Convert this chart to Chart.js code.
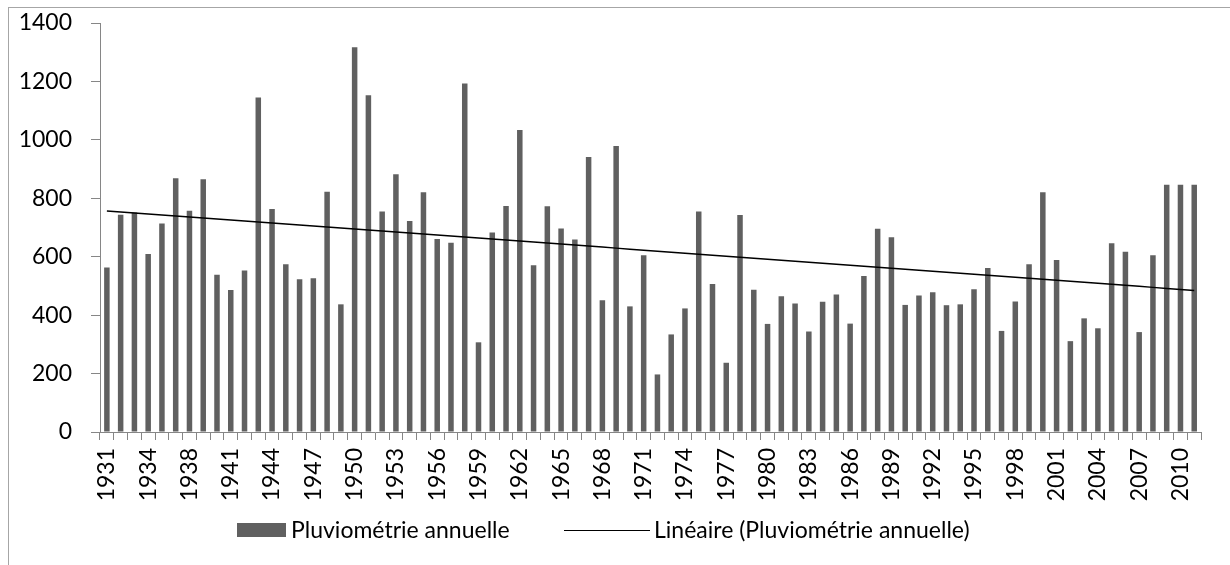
<!DOCTYPE html>
<html>
<head>
<meta charset="utf-8">
<script src="https://cdn.jsdelivr.net/npm/chart.js@4"></script>
<style>
    body { margin: 0; background: #fff; }
    #wrap { position: relative; width: 1230px; height: 565px; overflow: hidden; }
    #frame { position: absolute; left: 8px; top: 7px; width: 1300px; height: 700px;
             border-left: 1px solid #a6a6a6; border-top: 1px solid #a6a6a6; }
    canvas { position: absolute; left: 0; top: 0; }
    .legend { position: absolute; top: 515px; font-family: Lato, sans-serif; font-size: 23px;
              color: #000; line-height: 28px; white-space: nowrap; }
    .swatch-bar { position: absolute; left: 237px; top: 523px; width: 49px; height: 14px; background: #606060; }
    .swatch-line { position: absolute; left: 564px; top: 530px; width: 86px; height: 1px; background: #000; }
</style>
</head>
<body>
<div id="wrap">
    <div id="frame"></div>
    <canvas id="rainChart" width="1230" height="565"></canvas>
    <div class="swatch-bar"></div>
    <div class="legend" style="left:291px">Pluviométrie annuelle</div>
    <div class="swatch-line"></div>
    <div class="legend" style="left:654px">Linéaire (Pluviométrie annuelle)</div>
</div>
<script>
// Years (1937 absent from the series)
const years = [1931, 1932, 1933, 1934, 1935, 1936,
    1938, 1939, 1940, 1941, 1942, 1943, 1944, 1945, 1946, 1947, 1948, 1949,
    1950, 1951, 1952, 1953, 1954, 1955, 1956, 1957, 1958, 1959,
    1960, 1961, 1962, 1963, 1964, 1965, 1966, 1967, 1968, 1969,
    1970, 1971, 1972, 1973, 1974, 1975, 1976, 1977, 1978, 1979,
    1980, 1981, 1982, 1983, 1984, 1985, 1986, 1987, 1988, 1989,
    1990, 1991, 1992, 1993, 1994, 1995, 1996, 1997, 1998, 1999,
    2000, 2001, 2002, 2003, 2004, 2005, 2006, 2007, 2008, 2009,
    2010, 2011];

// Annual rainfall (mm)
const rainfall = [563, 744, 751, 609, 714, 869,
    757, 865, 538, 486, 553, 1145, 763, 574, 523, 526, 822, 437,
    1317, 1153, 755, 882, 722, 821, 661, 648, 1193, 307,
    683, 774, 1034, 571, 773, 697, 659, 941, 451, 979,
    430, 605, 197, 334, 423, 755, 507, 237, 743, 487,
    370, 465, 440, 344, 446, 471, 371, 534, 696, 667,
    435, 467, 478, 434, 437, 489, 561, 346, 447, 574,
    821, 589, 311, 389, 355, 646, 617, 342, 605, 846,
    846, 846];

const yTicks = [0, 200, 400, 600, 800, 1000, 1200, 1400];

// Linear trend (least squares on category index, like the spreadsheet trendline)
function linearTrend(values) {
    const n = values.length;
    let sx = 0, sy = 0, sxy = 0, sxx = 0;
    values.forEach((v, i) => { sx += i; sy += v; sxy += i * v; sxx += i * i; });
    const slope = (n * sxy - sx * sy) / (n * sxx - sx * sx);
    const icept = (sy - slope * sx) / n;
    return values.map((v, i) => icept + slope * i);
}

const axisColor = '#868686';
const fontSpec = { family: 'Lato, sans-serif', size: 23 };

new Chart(document.getElementById('rainChart').getContext('2d'), {
    data: {
        labels: years.map(String),
        datasets: [{
            type: 'line',
            label: 'Linéaire (Pluviométrie annuelle)',
            data: linearTrend(rainfall),
            borderColor: '#000',
            borderWidth: 1.5,
            pointRadius: 0,
            order: 0
        }, {
            type: 'bar',
            label: 'Pluviométrie annuelle',
            data: rainfall,
            backgroundColor: '#606060',
            barPercentage: 0.4,
            categoryPercentage: 1.0,
            order: 1
        }]
    },
    options: {
        responsive: false,
        animation: false,
        layout: { padding: { left: 0, right: 27, top: 23, bottom: 0 } },
        plugins: {
            legend: { display: false },
            tooltip: { enabled: false }
        },
        scales: {
            x: {
                offset: true,
                grid: { offset: true, drawOnChartArea: false, drawTicks: true, tickLength: 8, color: axisColor },
                border: { color: axisColor, width: 1 },
                ticks: {
                    autoSkip: false,
                    minRotation: 90,
                    maxRotation: 90,
                    padding: 8,
                    color: '#000',
                    font: fontSpec,
                    callback: function(value, index) {
                        return index % 3 === 0 ? years[index] : '';
                    }
                },
                afterFit: function(scale) { scale.height = 133; }
            },
            y: {
                min: 0,
                max: 1400,
                afterBuildTicks: function(scale) { scale.ticks = yTicks.map(v => ({ value: v })); },
                grid: { drawOnChartArea: false, drawTicks: true, tickLength: 9, color: axisColor },
                border: { color: axisColor, width: 1 },
                ticks: {
                    padding: 19,
                    color: '#000',
                    font: fontSpec,
                    callback: function(value) { return String(value); }
                },
                afterFit: function(scale) {
                    scale.width = 100;
                    scale.paddingTop = 0;
                    scale.paddingBottom = 0;
                }
            }
        }
    }
});
</script>
</body>
</html>
